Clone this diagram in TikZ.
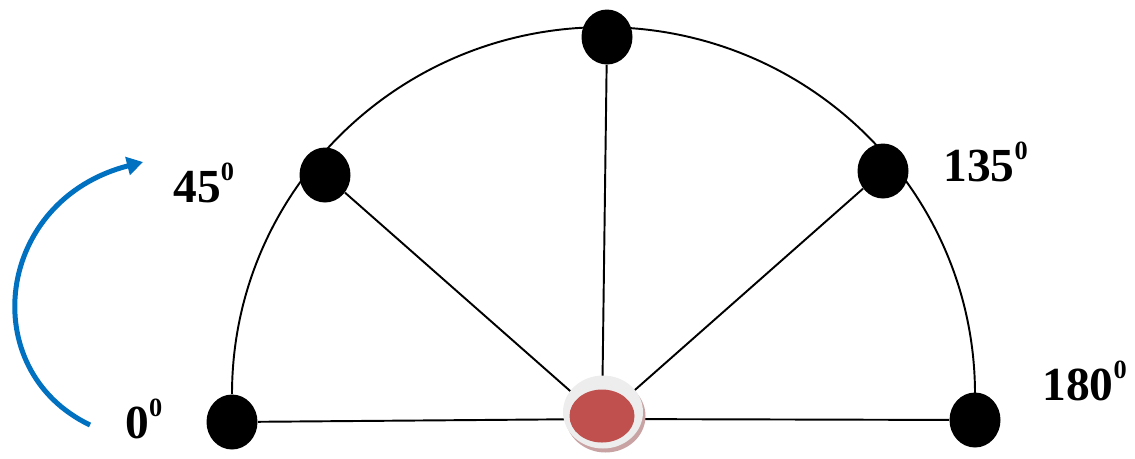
\documentclass[tikz,border=0pt]{standalone}
\usepackage{fontspec}
\setmainfont{Liberation Serif}
\usetikzlibrary{shapes.geometric, arrows.meta, shadows}
\definecolor{hubred}{HTML}{C0504D}
\definecolor{ringgray}{HTML}{EDEDED}
\definecolor{hubshadow}{HTML}{C9A3A3}
\definecolor{turnblue}{HTML}{0070C0}
\newcommand{\degsup}[1]{\raisebox{12pt}{\fontsize{15}{15}\selectfont #1}}

\begin{document}
\begin{tikzpicture}[x=0.02cm, y=-0.02cm,
        dot/.style={ellipse, fill=black, minimum width=1.02cm, minimum height=1.1cm, inner sep=0pt},
        spoke/.style={black, line width=1.1pt},
        lbl/.style={font=\fontsize{27}{27}\selectfont\bfseries, anchor=base west, inner sep=0pt},
        turn/.style={-{Triangle[length=0.32cm, width=0.36cm]}, line width=0.1cm, turnblue}
    ]
        \useasboundingbox (0,0) rectangle (1135,458);
        \node[dot] (d0) at (232,422) {};
        \node[dot] (d45) at (325,175) {};
        \node[dot] (d90) at (607,37) {};
        \node[dot] (d135) at (883,171) {};
        \node[dot] (d180) at (975,420) {};
        \coordinate (mid) at (602,419);
        \draw[spoke] (d0.north) arc[start angle=180, end angle=360, x radius=371.5, y radius=367];
        \draw[spoke] (mid) -- (d0);
        \draw[spoke] (mid) -- (d45);
        \draw[spoke] (mid) -- (d90);
        \draw[spoke] (mid) -- (d135);
        \draw[spoke] (mid) -- (d180);
        \node[ellipse, fill=ringgray, minimum width=1.6cm, minimum height=1.46cm, inner sep=0pt,
              drop shadow={shadow xshift=0.05cm, shadow yshift=-0.08cm, fill=hubshadow, opacity=1}] (hub) at (603,412) {};
        \node[ellipse, fill=hubred, minimum width=1.3cm, minimum height=1.06cm, inner sep=0pt] (core) at (602,416) {};
        \node[lbl] (l0) at (125,438) {0\degsup{0}};
        \node[lbl] (l45) at (173,202) {45\degsup{0}};
        \node[lbl] (l135) at (943,181) {135\degsup{0}};
        \node[lbl] (l180) at (1042,400) {180\degsup{0}};
        \coordinate (tstart) at (90,425);
        \coordinate (tend) at (143,162);
        \draw[turn] (tstart) .. controls (-25,370) and (-5,200) .. (tend);
    \end{tikzpicture}
\end{document}
